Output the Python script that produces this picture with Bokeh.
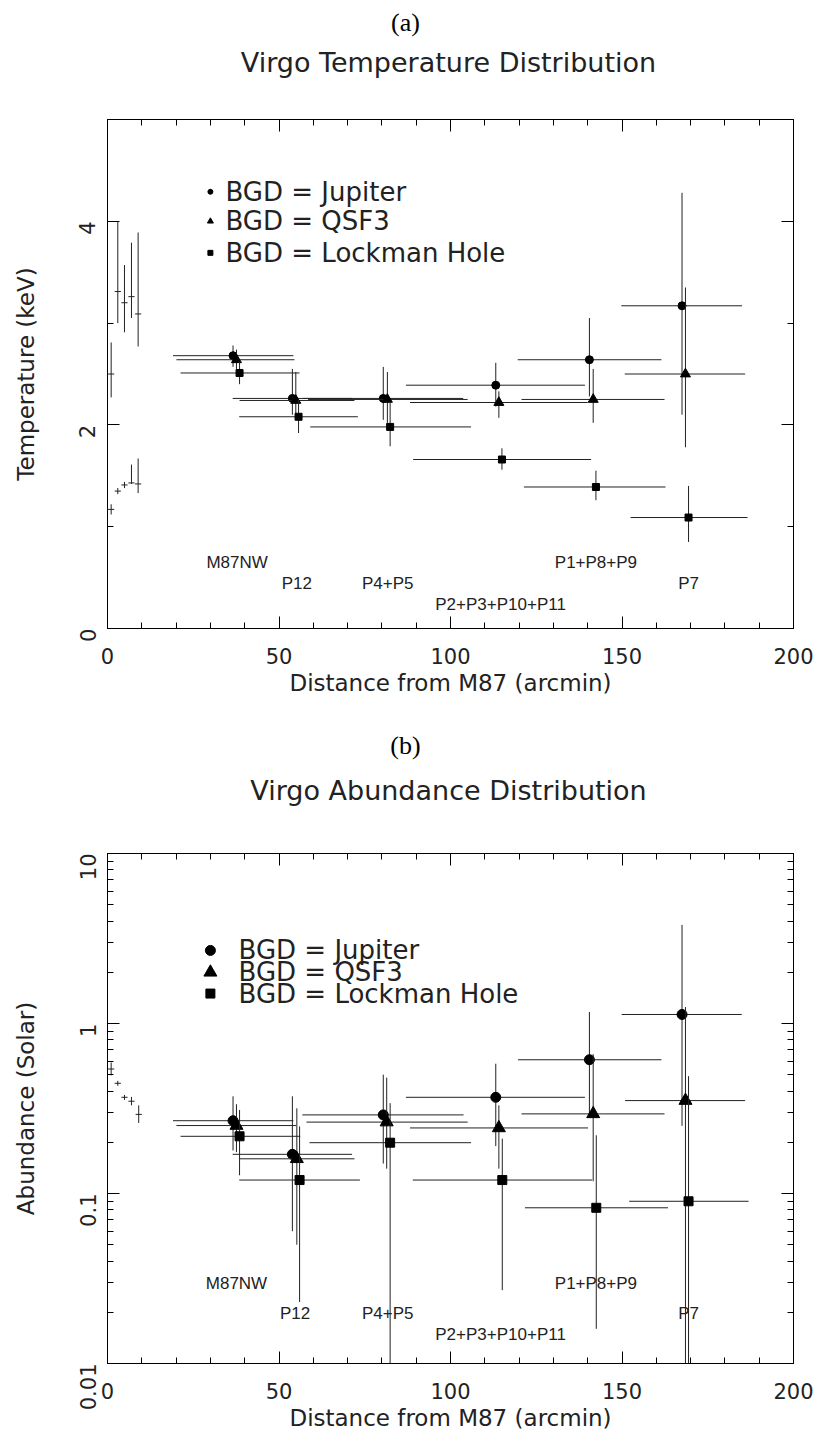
import math
from bokeh.plotting import figure
from bokeh.models import (LinearAxis, LogAxis, FixedTicker, Range1d,
                          CustomJSTickFormatter)
from bokeh.layouts import column
from bokeh.embed import file_html
from bokeh.resources import INLINE
from bokeh.core.properties import value

# ---------------- data ----------------
regions = ["M87NW", "P12", "P4+P5", "P2+P3+P10+P11", "P1+P8+P9", "P7"]
legend_names = ["BGD = Jupiter", "BGD = QSF3", "BGD = Lockman Hole"]
panel_a = ["(a)", "Virgo Temperature Distribution"]
panel_b = ["(b)", "Virgo Abundance Distribution"]
x_title = "Distance from M87 (arcmin)"

x_ticks = [0, 50, 100, 150, 200]
x_minor = list(range(0, 201, 10))
t_ticks = [0, 2, 4]
t_minor = [1, 3, 5]
a_ticks = [0.01, 0.1, 1, 10]
a_tick_labels = ["0.01", "0.1", "1", "10"]
a_minor = [m * d for d in (0.01, 0.1, 1) for m in range(2, 10)]

# (a) temperature, keV
t_jup_x = [36.6, 53.9, 80.4, 113.2, 140.5, 167.5]
t_jup_xlo = [19.1, 36.5, 57.1, 87.0, 119.6, 149.8]
t_jup_xhi = [54.2, 71.3, 103.7, 139.2, 161.5, 185.0]
t_jup_y = [2.68, 2.26, 2.26, 2.39, 2.64, 3.17]
t_jup_ylo = [2.57, 2.10, 2.05, 2.18, 2.28, 2.10]
t_jup_yhi = [2.78, 2.55, 2.57, 2.61, 3.05, 4.28]

t_qsf_x = [37.6, 54.9, 81.6, 114.1, 141.6, 168.5]
t_qsf_xlo = [20.1, 38.5, 58.5, 88.2, 120.7, 150.8]
t_qsf_xhi = [54.5, 72.0, 105.0, 140.0, 162.4, 185.9]
t_qsf_y = [2.64, 2.24, 2.25, 2.22, 2.25, 2.50]
t_qsf_ylo = [2.55, 2.05, 2.02, 2.07, 2.02, 1.78]
t_qsf_yhi = [2.74, 2.52, 2.52, 2.33, 2.55, 3.35]

t_lck_x = [38.5, 55.7, 82.4, 115.0, 142.4, 169.4]
t_lck_xlo = [21.3, 38.4, 59.1, 89.1, 121.4, 152.5]
t_lck_xhi = [56.0, 73.0, 106.0, 141.0, 162.7, 186.6]
t_lck_y = [2.51, 2.08, 1.98, 1.66, 1.39, 1.09]
t_lck_ylo = [2.40, 1.92, 1.79, 1.56, 1.26, 0.85]
t_lck_yhi = [2.62, 2.25, 2.22, 1.77, 1.55, 1.40]

core_x = [1.07, 3.0, 4.95, 6.99, 8.93]
core_xerr = [0.9, 0.9, 0.9, 0.9, 0.9]
t_hot_y = [2.50, 3.31, 3.20, 3.26, 3.09]
t_hot_ylo = [2.27, 3.00, 2.91, 3.05, 2.77]
t_hot_yhi = [2.81, 4.00, 3.57, 3.79, 3.89]
t_cool_y = [1.17, 1.35, 1.41, 1.43, 1.42]
t_cool_ylo = [1.12, 1.32, 1.38, 1.42, 1.33]
t_cool_yhi = [1.22, 1.38, 1.44, 1.61, 1.67]

t_lab_x = [37.8, 55.2, 81.7, 114.6, 142.4, 169.4]
t_lab_y = [0.65, 0.44, 0.44, 0.24, 0.65, 0.44]
t_leg_x = 30.0
t_leg_tx = 34.4
t_leg_y = [4.29, 4.00, 3.69]

# (b) abundance, solar
a_jup_x = [36.6, 53.9, 80.4, 113.2, 140.5, 167.5]
a_jup_xlo = [19.1, 36.5, 56.8, 87.0, 119.7, 149.9]
a_jup_xhi = [54.2, 71.3, 103.8, 139.2, 161.5, 184.9]
a_jup_y = [0.268, 0.170, 0.290, 0.368, 0.612, 1.13]
a_jup_ylo = [0.179, 0.060, 0.150, 0.190, 0.290, 0.25]
a_jup_yhi = [0.373, 0.373, 0.50, 0.58, 1.17, 3.80]

a_qsf_x = [37.6, 55.2, 81.4, 114.1, 141.6, 168.5]
a_qsf_xlo = [20.1, 38.5, 58.0, 88.2, 120.7, 150.9]
a_qsf_xhi = [55.0, 72.0, 105.0, 140.1, 162.4, 185.9]
a_qsf_y = [0.251, 0.160, 0.263, 0.243, 0.294, 0.352]
a_qsf_ylo = [0.175, 0.050, 0.14, 0.14, 0.118, 0.010]
a_qsf_yhi = [0.335, 0.317, 0.48, 0.33, 0.66, 1.25]

a_lck_x = [38.5, 56.0, 82.4, 115.1, 142.5, 169.4]
a_lck_xlo = [21.3, 38.4, 58.9, 89.0, 121.7, 152.1]
a_lck_xhi = [56.2, 73.6, 106.0, 141.3, 163.4, 186.9]
a_lck_y = [0.217, 0.120, 0.199, 0.120, 0.0824, 0.090]
a_lck_ylo = [0.128, 0.023, 0.010, 0.027, 0.016, 0.010]
a_lck_yhi = [0.31, 0.248, 0.34, 0.21, 0.22, 0.49]

a_core_x = [1.07, 3.0, 4.95, 6.99, 9.1]
a_core_y = [0.54, 0.445, 0.368, 0.349, 0.292]
a_core_ylo = [0.495, 0.43, 0.355, 0.33, 0.26]
a_core_yhi = [0.59, 0.46, 0.38, 0.37, 0.33]

a_lab_x = [37.6, 54.7, 81.7, 114.6, 142.4, 169.4]
a_lab_y = [0.0296, 0.0198, 0.0198, 0.0148, 0.0296, 0.0198]
a_leg_x = 30.0
a_leg_tx = 38.2
a_leg_y = [2.69, 2.00, 1.50]

# ---------------- style ----------------
HFONT = "DejaVu Sans"
LFONT = "Liberation Sans"
TXT = "#222222"
BAR = "#222222"
W = 820
LEFT, RIGHT = 107, 27


def header(h, texts, ys, xs):
    """Small figure holding the panel letter and the panel title
    (its x range is in page pixels across the frame)."""
    p = figure(width=W, height=h, x_range=Range1d(LEFT, W - RIGHT),
               y_range=Range1d(h, 0),
               output_backend="svg", toolbar_location=None, title=None,
               x_axis_location=None, y_axis_location=None,
               min_border_left=LEFT, min_border_right=RIGHT,
               min_border_top=0, min_border_bottom=0)
    p.xgrid.grid_line_color = None
    p.ygrid.grid_line_color = None
    p.outline_line_color = None
    p.text(x=xs[:1], y=ys[:1], text=texts[:1], text_font=value("Liberation Serif"),
           text_font_size="26px", text_align="center", text_baseline="middle",
           text_color="black")
    p.text(x=xs[1:], y=ys[1:], text=texts[1:], text_font=value(HFONT),
           text_font_size="27px", text_align="center", text_baseline="middle",
           text_color=TXT)
    return p


def style_axes(p, xt, xm, yt, ym, log=False, ylabels=None):
    p.xgrid.grid_line_color = None
    p.ygrid.grid_line_color = None
    p.outline_line_color = "black"
    p.background_fill_color = "white"
    p.border_fill_color = "white"
    for ax in (p.xaxis[0], p.yaxis[0]):
        ax.major_tick_in = 12
        ax.major_tick_out = 0
        ax.minor_tick_in = 6
        ax.minor_tick_out = 0
        ax.axis_line_color = "black"
        ax.major_tick_line_color = "black"
        ax.minor_tick_line_color = "black"
        ax.major_label_text_font = HFONT
        ax.major_label_text_font_size = "21px"
        ax.major_label_text_color = TXT
        ax.axis_label_text_font = HFONT
        ax.axis_label_text_font_size = "23px"
        ax.axis_label_text_font_style = "normal"
        ax.axis_label_text_color = TXT
    p.xaxis[0].ticker = FixedTicker(ticks=xt, minor_ticks=xm)
    p.yaxis[0].ticker = FixedTicker(ticks=yt, minor_ticks=ym)
    if ylabels is not None:
        p.yaxis[0].major_label_overrides = dict(zip(yt, ylabels))
    p.xaxis[0].major_label_standoff = 19
    p.xaxis[0].axis_label_standoff = 3
    p.yaxis[0].major_label_orientation = math.pi / 2
    p.yaxis[0].major_label_standoff = 20
    p.yaxis[0].axis_label_standoff = 30
    blank = CustomJSTickFormatter(code="return ''")
    top = LinearAxis(ticker=FixedTicker(ticks=xt, minor_ticks=xm), formatter=blank,
                     major_tick_in=12, major_tick_out=0, minor_tick_in=6,
                     minor_tick_out=0, major_label_standoff=0,
                     major_label_text_font_size="1px")
    AxR = LogAxis if log else LinearAxis
    right = AxR(ticker=FixedTicker(ticks=yt, minor_ticks=ym), formatter=blank,
                major_tick_in=12, major_tick_out=0, minor_tick_in=6,
                minor_tick_out=0, major_label_standoff=0,
                major_label_text_font_size="1px")
    p.add_layout(top, "above")
    p.add_layout(right, "right")


def series(p, x, xlo, xhi, y, ylo, yhi, marker, size):
    p.segment(x0=xlo, y0=y, x1=xhi, y1=y, line_color=BAR, line_width=1)
    p.segment(x0=x, y0=ylo, x1=x, y1=yhi, line_color=BAR, line_width=1)
    if marker is not None:
        p.scatter(x=x, y=y, marker=marker, size=size, fill_color="black",
                  line_color="black")


def core(p, x, err, y, ylo, yhi):
    xlo = [a - e for a, e in zip(x, err)]
    xhi = [a + e for a, e in zip(x, err)]
    series(p, x, xlo, xhi, y, ylo, yhi, None, 0)


# ---------------- (a) ----------------
h1 = header(114, panel_a, [22, 62], [405, 448])

p1 = figure(width=W, height=606, x_range=Range1d(0, 200), y_range=Range1d(0, 5),
            output_backend="svg", toolbar_location=None, title=None,
            min_border_left=LEFT, min_border_right=RIGHT, min_border_top=5,
            min_border_bottom=92, x_axis_label=x_title,
            y_axis_label="Temperature (keV)")
style_axes(p1, x_ticks, x_minor, t_ticks, t_minor)

core(p1, core_x, core_xerr, t_hot_y, t_hot_ylo, t_hot_yhi)
core(p1, core_x, core_xerr, t_cool_y, t_cool_ylo, t_cool_yhi)
series(p1, t_jup_x, t_jup_xlo, t_jup_xhi, t_jup_y, t_jup_ylo, t_jup_yhi, "circle", 8)
series(p1, t_qsf_x, t_qsf_xlo, t_qsf_xhi, t_qsf_y, t_qsf_ylo, t_qsf_yhi, "triangle", 10)
series(p1, t_lck_x, t_lck_xlo, t_lck_xhi, t_lck_y, t_lck_ylo, t_lck_yhi, "square", 7)

p1.text(x=t_lab_x, y=t_lab_y, text=regions, text_font=value(LFONT),
        text_font_size="17px", text_align="center", text_baseline="middle",
        text_color=TXT)
p1.scatter(x=[t_leg_x] * 3, y=t_leg_y, marker=["circle", "triangle", "square"],
           size=[5, 6, 5], fill_color="black", line_color="black")
p1.text(x=[t_leg_tx] * 3, y=t_leg_y, text=legend_names, text_font=value(HFONT),
        text_font_size="26px", text_align="left", text_baseline="middle",
        text_color=TXT)

# ---------------- (b) ----------------
h2 = header(128, panel_b, [25, 70], [405, 448])

p2 = figure(width=W, height=593, x_range=Range1d(0, 200),
            y_range=Range1d(0.01, 10), y_axis_type="log",
            output_backend="svg", toolbar_location=None, title=None,
            min_border_left=LEFT, min_border_right=RIGHT, min_border_top=5,
            min_border_bottom=78, x_axis_label=x_title,
            y_axis_label="Abundance (Solar)")
style_axes(p2, x_ticks, x_minor, a_ticks, a_minor, log=True, ylabels=a_tick_labels)

core(p2, a_core_x, core_xerr, a_core_y, a_core_ylo, a_core_yhi)
series(p2, a_jup_x, a_jup_xlo, a_jup_xhi, a_jup_y, a_jup_ylo, a_jup_yhi, "circle", 10)
series(p2, a_qsf_x, a_qsf_xlo, a_qsf_xhi, a_qsf_y, a_qsf_ylo, a_qsf_yhi, "triangle", 13)
series(p2, a_lck_x, a_lck_xlo, a_lck_xhi, a_lck_y, a_lck_ylo, a_lck_yhi, "square", 9)

p2.text(x=a_lab_x, y=a_lab_y, text=regions, text_font=value(LFONT),
        text_font_size="17px", text_align="center", text_baseline="middle",
        text_color=TXT)
p2.scatter(x=[a_leg_x] * 3, y=a_leg_y, marker=["circle", "triangle", "square"],
           size=[10, 13, 9], fill_color="black", line_color="black")
p2.text(x=[a_leg_tx] * 3, y=a_leg_y, text=legend_names, text_font=value(HFONT),
        text_font_size="26px", text_align="left", text_baseline="middle",
        text_color=TXT)

layout = column(h1, p1, h2, p2, spacing=0)
open("out.html", "w").write(file_html(layout, INLINE))
